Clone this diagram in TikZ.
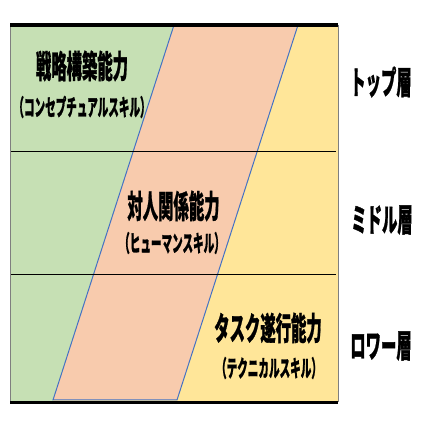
\documentclass[tikz,border=0pt]{standalone}
\usepackage{fontspec}
\newfontfamily\jp{Noto Sans CJK JP}[BoldFeatures={FakeBold=1.2}]
\definecolor{grn}{HTML}{C6E0B4}
\definecolor{sal}{HTML}{F8CBAD}
\definecolor{yel}{HTML}{FFE699}
\definecolor{blu}{HTML}{4472C4}
\definecolor{edge}{HTML}{7F7F7F}
\tikzset{
  ttl/.style={font=\jp\bfseries\fontsize{32}{32}\selectfont, xscale=0.48, inner sep=0pt},
  sub/.style={font=\jp\bfseries\fontsize{23}{23}\selectfont, xscale=0.46, inner sep=0pt},
  lvl/.style={font=\jp\bfseries\fontsize{32}{32}\selectfont, xscale=0.48, inner sep=0pt},
}
\begin{document}
\begin{tikzpicture}[x=1pt,y=1pt]
\useasboundingbox (0,0) rectangle (422,422);
\fill[yel] (10,20) rectangle (338,397);
\fill[grn] (10,397) -- (174,397) -- (53,21) -- (10,21) -- cycle;
\filldraw[fill=sal, draw=blu, line width=1pt] (174,397) -- (298,397) -- (177,22) -- (53,22) -- cycle;
\draw[black, line width=0.9pt] (10,271) -- (336,271);
\draw[black, line width=0.9pt] (10,148) -- (336,148);
\draw[edge, line width=1pt] (10,20) -- (10,397);
\draw[edge, line width=1pt] (338,20) -- (338,397);
\draw[black, line width=3.5pt] (10,397) -- (338,397);
\draw[black, line width=3pt] (10,19.5) -- (338,19.5);
\node[ttl] (a1) at (82,356) {戦略構築能力};
\node[sub] (a2) at (82,315) {（コンセプチュアルスキル）};
\node[ttl] (b1) at (173.5,216) {対人関係能力};
\node[sub] (b2) at (172,179) {（ヒューマンスキル）};
\node[ttl] (c1) at (268,94) {タスク遂行能力};
\node[sub] (c2) at (269,54) {（テクニカルスキル）};
\node[lvl] (l1) at (381,340) {トップ層};
\node[lvl] (l2) at (382,202) {ミドル層};
\node[lvl] (l3) at (381,76) {ロワー層};
\end{tikzpicture}
\end{document}
